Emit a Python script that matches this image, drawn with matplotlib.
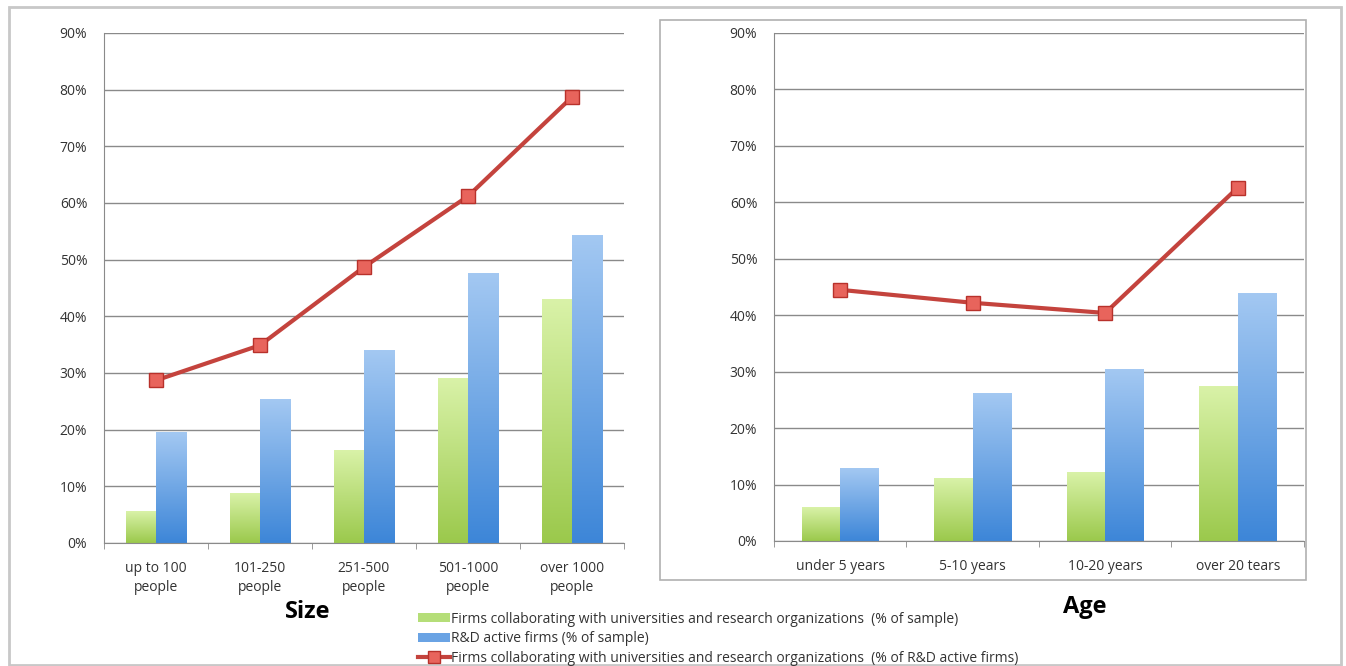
import numpy as np
import matplotlib
matplotlib.use("Agg")
import matplotlib.pyplot as plt
from matplotlib.patches import Rectangle, Patch
from matplotlib.lines import Line2D
from matplotlib.colors import to_rgb

# dati
size_labels = ["up to 100\npeople", "101-250\npeople", "251-500\npeople",
               "501-1000\npeople", "over 1000\npeople"]
size_collab = [5.5, 8.8, 16.4, 29.1, 42.9]
size_rd = [19.5, 25.4, 33.9, 47.6, 54.3]
size_collab_rd = [28.7, 34.9, 48.7, 61.2, 78.7]

age_labels = ["under 5 years", "5-10 years", "10-20 years", "over 20 tears"]
age_collab = [5.9, 11.0, 12.1, 27.3]
age_rd = [12.9, 26.1, 30.3, 43.8]
age_collab_rd = [44.5, 42.2, 40.4, 62.6]

legend_labels = [
    "Firms collaborating with universities and research organizations  (% of sample)",
    "R&D active firms (% of sample)",
    "Firms collaborating with universities and research organizations  (% of R&D active firms)",
]

plt.rcParams['font.family'] = ['Open Sans', 'DejaVu Sans']

green_top, green_bot = "#d9f2a8", "#9bc94c"
blue_top, blue_bot = "#a3c8f2", "#3d86d8"
red = "#c4433d"


def gradient_bars(ax, bars, top, bot):
    # colora ogni barra con un gradiente verticale
    c_top = np.array(to_rgb(top))
    c_bot = np.array(to_rgb(bot))
    t = np.linspace(0, 1, 128)[:, None]
    img = (c_top * (1 - t) + c_bot * t)[:, None, :]
    for b in bars:
        b.set_visible(False)
        x0 = b.get_x()
        ax.imshow(img, extent=[x0, x0 + b.get_width(), 0, b.get_height()],
                  aspect="auto", zorder=2, interpolation="bilinear")


def draw_panel(ax, labels, collab, rd, collab_rd):
    x = np.arange(len(labels))
    w = 0.29
    g = ax.bar(x - w / 2, collab, w, zorder=2)
    b = ax.bar(x + w / 2, rd, w, zorder=2)
    gradient_bars(ax, g, green_top, green_bot)
    gradient_bars(ax, b, blue_top, blue_bot)
    ax.plot(x, collab_rd, color=red, lw=3, zorder=4, marker="s", ms=10,
            mfc="#e8645c", mec="#b8312b", mew=1)
    ax.set_xlim(-0.5, len(labels) - 0.5)
    ax.set_ylim(0, 90)
    ax.set_yticks(range(0, 91, 10))
    ax.set_yticklabels([f"{v}%" for v in range(0, 91, 10)])
    ax.yaxis.grid(True, color="#8a8a8a", lw=1)
    ax.set_axisbelow(True)
    ax.set_xticks(x)
    ax.set_xticklabels(labels, linespacing=1.35)
    ax.set_xticks(np.arange(len(labels) + 1) - 0.5, minor=True)
    ax.tick_params(axis="x", which="major", length=0, pad=13)
    ax.tick_params(axis="x", which="minor", length=4, color="#8a8a8a")
    ax.tick_params(axis="y", length=0, pad=12)
    ax.tick_params(labelsize=10, labelcolor="#333333")
    for s in ["top", "right"]:
        ax.spines[s].set_visible(False)
    for s in ["left", "bottom"]:
        ax.spines[s].set_color("#8a8a8a")


fig = plt.figure(figsize=(13.46, 6.66), dpi=100)

# cornice esterna e riquadro del grafico di destra
fig.patches.append(Rectangle((9 / 1346, 1 - 665 / 666), 1332 / 1346, 658 / 666,
                             transform=fig.transFigure, fill=False,
                             ec="#c8c8c8", lw=2))
fig.patches.append(Rectangle((660 / 1346, 1 - 580 / 666), 646 / 1346, 560 / 666,
                             transform=fig.transFigure, fill=False,
                             ec="#b0b0b0", lw=1.2))

ax1 = fig.add_axes([104 / 1346, 1 - 543 / 666, 520 / 1346, 510 / 666])
ax2 = fig.add_axes([774 / 1346, 1 - 541 / 666, 530 / 1346, 508 / 666])
draw_panel(ax1, size_labels, size_collab, size_rd, size_collab_rd)
draw_panel(ax2, age_labels, age_collab, age_rd, age_collab_rd)

fig.text(308 / 1346, 1 - 612 / 666, "Size", fontsize=17, fontweight="bold",
         ha="center", va="center")
fig.text(1085 / 1346, 1 - 607 / 666, "Age", fontsize=17, fontweight="bold",
         ha="center", va="center")

handles = [Patch(facecolor="#b5de78"), Patch(facecolor="#6aa3e4"),
           Line2D([], [], color=red, lw=3, marker="s", ms=8,
                  mfc="#e8645c", mec="#b8312b")]
fig.legend(handles, legend_labels, loc="upper left",
           bbox_to_anchor=(412 / 1346, 1 - 606 / 666), frameon=False,
           fontsize=10, handlelength=2.3, handleheight=0.6,
           handletextpad=0.1, labelspacing=0.33, borderaxespad=0,
           labelcolor="#333333")

fig.savefig("out.png", dpi=100)
